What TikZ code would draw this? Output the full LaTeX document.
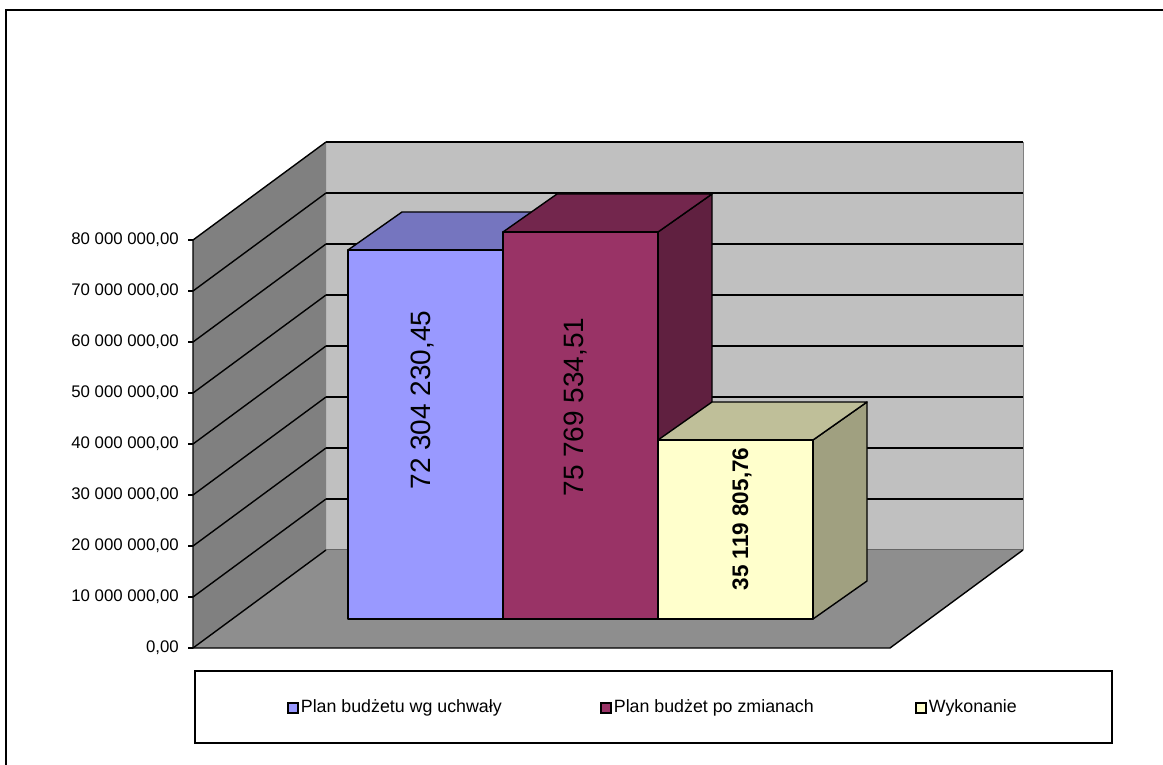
\documentclass[tikz,border=0pt]{standalone}
\usepackage{fontspec}
\setmainfont{Liberation Sans}
\usepackage{tikz}
\usetikzlibrary{positioning}

\definecolor{wallback}{HTML}{C0C0C0}
\definecolor{wallside}{HTML}{808080}
\definecolor{floorgray}{HTML}{8E8E8E}
\definecolor{planfront}{HTML}{9999FF}
\definecolor{plantop}{HTML}{7575BF}
\definecolor{planside}{HTML}{6060A0}
\definecolor{zmfront}{HTML}{993366}
\definecolor{zmtop}{HTML}{73264D}
\definecolor{zmside}{HTML}{602040}
\definecolor{wykfront}{HTML}{FFFFCC}
\definecolor{wyktop}{HTML}{BFBF99}
\definecolor{wykside}{HTML}{A0A080}

\tikzset{
	face/.style={draw=black, line width=1.4pt, line join=round},
	grid/.style={black, line width=1.4pt},
	ticklabel/.style={anchor=east, inner sep=0pt, font=\fontsize{16.8}{19}\selectfont},
	barlabel/.style={rotate=90, inner sep=0pt, font=\fontsize{28}{31}\selectfont},
	legkey/.style={draw=black, line width=1.4pt, minimum size=10pt, inner sep=0pt},
	legtext/.style={inner sep=1pt, font=\fontsize{17.8}{20}\selectfont},
}

\begin{document}
\begin{tikzpicture}[x=1pt, y=-1pt]
	\useasboundingbox (0,0) rectangle (1163,765);

	% Outer frame
	\draw[line width=1.6pt] (6,765) -- (6,10) -- (1163,10);

	% Walls and floor
	%Back
	\fill[wallback] (326,142) rectangle (1023,550);
	\draw[gray, line width=1pt] (1023,142) -- (1023,550);
	\draw[gray!80!black, line width=1.2pt] (326,550) -- (1023,550);
	%Side
	\fill[wallside] (193,648) -- (193,240) -- (326,142) -- (326,550) -- cycle;
	%Floor
	\fill[floorgray] (193,648) -- (326,550) -- (1023,550) -- (890,648) -- cycle;

	% Gridlines
	\foreach \k in {0,...,8}
		\draw[grid] (193,648-51*\k) -- (326,550-51*\k);
	\foreach \k in {1,...,8}
		\draw[grid] (326,550-51*\k) -- (1023,550-51*\k);
	\draw[grid] (193,240) -- (193,648) -- (890,648) -- (1023,550);

	% Axis ticks and labels
	\foreach \k/\txt in {0/{0,00}, 1/{10 000 000,00}, 2/{20 000 000,00}, 3/{30 000 000,00},
		4/{40 000 000,00}, 5/{50 000 000,00}, 6/{60 000 000,00}, 7/{70 000 000,00}, 8/{80 000 000,00}}
	{
		\draw[grid] (188,648-51*\k) -- (193,648-51*\k);
		\node[ticklabel] (tick\k) at (179,648-51*\k) {\txt};
	}

	% Bars: x left / x right / top / colours
	\foreach \xa/\xb/\yt/\cf/\ct/\cs in {348/503/250/planfront/plantop/planside,
		503/658/232/zmfront/zmtop/zmside, 658/813/440/wykfront/wyktop/wykside}
	{
		\draw[face, fill=\cs] (\xb,619) -- (\xb+54,581) -- (\xb+54,\yt-38) -- (\xb,\yt) -- cycle;
		\draw[face, fill=\ct] (\xa,\yt) -- (\xa+54,\yt-38) -- (\xb+54,\yt-38) -- (\xb,\yt) -- cycle;
		\draw[face, fill=\cf] (\xa,619) rectangle (\xb,\yt);
	}

	% Bar values
	\node[barlabel] (val1) at (423,400) {72 304 230,45};
	\node[barlabel] (val2) at (576,407) {75 769 534,51};
	\node[barlabel, font=\fontsize{22.5}{25}\selectfont\bfseries] (val3) at (742,519) {35 119 805,76};

	% Legend
	\draw[line width=1.2pt] (195,671) rectangle (1112,743);
	\node[legkey, fill=planfront] (key1) at (293,708) {};
	\node[legtext, right=1pt of key1] (leg1) {Plan budżetu wg uchwały};
	\node[legkey, fill=zmfront] (key2) at (606,708) {};
	\node[legtext, right=1pt of key2] (leg2) {Plan budżet po zmianach};
	\node[legkey, fill=wykfront] (key3) at (921,708) {};
	\node[legtext, right=1pt of key3] (leg3) {Wykonanie};

\end{tikzpicture}
\end{document}
